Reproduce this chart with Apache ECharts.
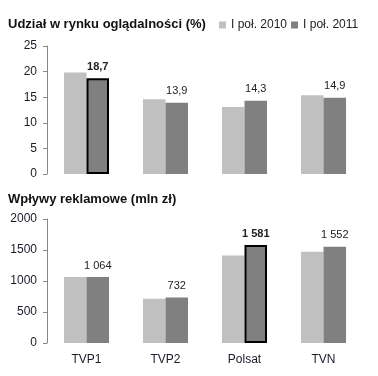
<!DOCTYPE html>
<html>
<head>
<meta charset="utf-8">
<script src="https://cdn.jsdelivr.net/npm/echarts@6/dist/echarts.min.js"></script>
<style>
  html, body { margin: 0; padding: 0; background: #fff; }
  #chart { width: 378px; height: 376px; }
</style>
</head>
<body>
<div id="chart"></div>
<script>
var stations = ['TVP1', 'TVP2', 'Polsat', 'TVN'];
var seriesNames = ['I poł. 2010', 'I poł. 2011'];
var share2010 = [19.8, 14.6, 13.1, 15.4];
var share2011 = [18.7, 13.9, 14.3, 14.9];
var ads2010 = [1064, 712, 1410, 1470];
var ads2011 = [1064, 732, 1581, 1552];
var shareTicks = [0, 5, 10, 15, 20, 25];
var adsTicks = [0, 500, 1000, 1500, 2000];
// which bar of 2011 is outlined in each panel
var shareHighlight = 0;
var adsHighlight = 2;

var font = 'Liberation Sans';
var light = '#c0c0c0';
var dark = '#808080';

function fmtShare(v) { return String(v).replace('.', ','); }
function fmtAds(v) { return String(v).replace(/\B(?=(\d{3})+(?!\d))/g, ' '); }

function items(values, hi) {
  return values.map(function (v, i) {
    var it = { value: v };
    if (i === hi) {
      it.itemStyle = { borderColor: '#000', borderWidth: 2 };
      it.label = { fontWeight: 'bold' };
    }
    return it;
  });
}

var dom = document.getElementById('chart');
var myChart = echarts.init(dom, null, { renderer: 'canvas' });

function yAxis(gridIndex, ticks) {
  return {
    type: 'value', gridIndex: gridIndex,
    min: ticks[0], max: ticks[ticks.length - 1], interval: ticks[1] - ticks[0],
    axisLine: { show: true, lineStyle: { color: '#888' } },
    axisTick: { show: true, length: 4, lineStyle: { color: '#888' } },
    splitLine: { show: false },
    axisLabel: {
      color: '#1a1a2a', fontFamily: font, fontSize: 12, margin: 10,
      formatter: function (v) { return String(v); }
    }
  };
}

function barSeries(name, x, values, color, label, hi, fmt) {
  return {
    name: name, type: 'bar', xAxisIndex: x, yAxisIndex: x,
    data: label ? items(values, hi) : values,
    barWidth: '28.5%', barGap: '0%',
    itemStyle: { color: color },
    label: {
      show: label, position: 'top', distance: 6,
      color: '#222', fontFamily: font, fontSize: 11,
      formatter: function (p) { return fmt(p.value); }
    }
  };
}

var option = {
  animation: false,
  title: [
    { text: 'Udział w rynku oglądalności (%)', left: 3, top: 13,
      textStyle: { fontFamily: font, fontSize: 13, fontWeight: 'bold', color: '#111' } },
    { text: 'Wpływy reklamowe (mln zł)', left: 3, top: 188,
      textStyle: { fontFamily: font, fontSize: 13, fontWeight: 'bold', color: '#111' } }
  ],
  legend: {
    data: seriesNames, left: 214, top: 14,
    itemWidth: 7, itemHeight: 7, itemGap: 4, icon: 'rect',
    textStyle: { fontFamily: font, fontSize: 12, color: '#222' }
  },
  grid: [
    { left: 47, right: 15, top: 46, height: 128 },
    { left: 47, right: 15, top: 219, height: 124 }
  ],
  xAxis: [
    { type: 'category', gridIndex: 0, data: stations,
      axisLine: { show: false }, axisTick: { show: false }, axisLabel: { show: false } },
    { type: 'category', gridIndex: 1, data: stations,
      axisLine: { show: false }, axisTick: { show: false },
      axisLabel: { color: '#1a1a2a', fontFamily: font, fontSize: 12, margin: 11 } }
  ],
  yAxis: [yAxis(0, shareTicks), yAxis(1, adsTicks)],
  series: [
    barSeries(seriesNames[0], 0, share2010, light, false),
    barSeries(seriesNames[1], 0, share2011, dark, true, shareHighlight, fmtShare),
    barSeries(seriesNames[0], 1, ads2010, light, false),
    barSeries(seriesNames[1], 1, ads2011, dark, true, adsHighlight, fmtAds)
  ]
};

myChart.setOption(option);
window.onresize = myChart.resize;
</script>
</body>
</html>
